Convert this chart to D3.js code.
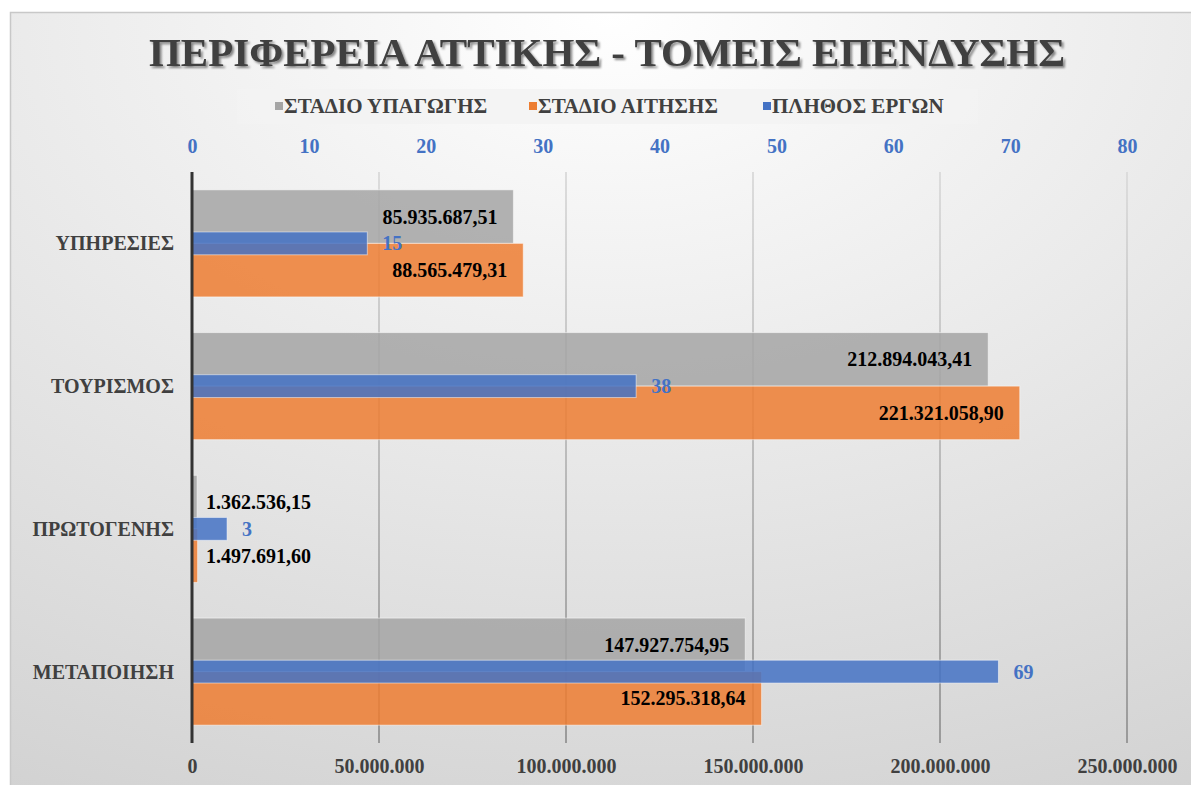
<!DOCTYPE html>
<html>
<head>
<meta charset="utf-8">
<script src="https://cdn.jsdelivr.net/npm/d3@7"></script>
<style>
  body { margin: 0; background: #fff; }
  svg text { font-family: "Liberation Serif", "Times New Roman", serif !important; font-weight: bold; }
</style>
</head>
<body>
<div class="chart"></div>
<script>
// data
var categories = ["ΥΠΗΡΕΣΙΕΣ", "ΤΟΥΡΙΣΜΟΣ", "ΠΡΩΤΟΓΕΝΗΣ", "ΜΕΤΑΠΟΙΗΣΗ"];
var stadioYpagogis = [85935687.51, 212894043.41, 1362536.15, 147927754.95];
var stadioAitisis = [88565479.31, 221321058.90, 1497691.60, 152295318.64];
var plithosErgon = [15, 38, 3, 69];
var seriesNames = ["ΣΤΑΔΙΟ ΥΠΑΓΩΓΗΣ", "ΣΤΑΔΙΟ ΑΙΤΗΣΗΣ", "ΠΛΗΘΟΣ ΕΡΓΩΝ"];
var moneyTicks = [0, 50000000, 100000000, 150000000, 200000000, 250000000];
var countTicks = [0, 10, 20, 30, 40, 50, 60, 70, 80];

function drawChart() {
    var W = 1191, H = 785;
    var plot = { left: 192, right: 1127, top: 172, bottom: 743 };
    var colors = ["#a5a5a5", "#ed7d31", "#4472c4"];

    var gr = d3.formatLocale({ decimal: ",", thousands: ".", grouping: [3], currency: ["", "€"] });
    var fmtMoney = gr.format(",.2f"),
        fmtTick = gr.format(",.0f");

    var svg = d3.select(".chart").append("svg")
        .attr("width", W)
        .attr("height", H);

    var defs = svg.append("defs");
    var bg = defs.append("radialGradient")
        .attr("id", "bg")
        .attr("cx", "50%").attr("cy", "0%").attr("r", "110%")
        .attr("fx", "50%").attr("fy", "0%");
    bg.append("stop").attr("offset", "0%").attr("stop-color", "#ffffff");
    bg.append("stop").attr("offset", "100%").attr("stop-color", "#d2d2d2");

    var gridGrad = defs.append("linearGradient")
        .attr("id", "gridgrad")
        .attr("gradientUnits", "userSpaceOnUse")
        .attr("x1", 0).attr("y1", plot.top).attr("x2", 0).attr("y2", plot.bottom);
    gridGrad.append("stop").attr("offset", "0%").attr("stop-color", "#dcdcdc");
    gridGrad.append("stop").attr("offset", "100%").attr("stop-color", "#9a9a9a");

    var shadow = defs.append("filter").attr("id", "shadow")
        .attr("x", "-5%").attr("y", "-20%").attr("width", "110%").attr("height", "150%");
    shadow.append("feDropShadow")
        .attr("dx", 2).attr("dy", 2).attr("stdDeviation", 1)
        .attr("flood-color", "#000").attr("flood-opacity", 0.45);

    // chart area
    svg.append("rect")
        .attr("x", 10.5).attr("y", 12.5)
        .attr("width", W + 10).attr("height", H + 10)
        .attr("fill", "url(#bg)")
        .attr("stroke", "#c8c8c8")
        .attr("stroke-width", 1.5);

    // title
    svg.append("text")
        .attr("x", 607).attr("y", 52)
        .attr("text-anchor", "middle")
        .attr("dominant-baseline", "central")
        .attr("fill", "#404040")
        .attr("font-size", 41)
        .attr("filter", "url(#shadow)")
        .text("ΠΕΡΙΦΕΡΕΙΑ ΑΤΤΙΚΗΣ - ΤΟΜΕΙΣ ΕΠΕΝΔΥΣΗΣ");

    // legend
    svg.append("rect")
        .attr("x", 237).attr("y", 89)
        .attr("width", 741).attr("height", 35)
        .attr("fill", "#f2f2f2")
        .attr("opacity", 0.8);

    var legendX = [275, 529, 763];
    var legend = svg.selectAll(".legend")
        .data(seriesNames)
        .enter().append("g")
        .attr("class", "legend")
        .attr("transform", function (d, i) { return "translate(" + legendX[i] + ",106)"; });
    legend.append("rect")
        .attr("x", 0).attr("y", -4)
        .attr("width", 8).attr("height", 8)
        .attr("fill", function (d, i) { return colors[i]; });
    legend.append("text")
        .attr("x", 9)
        .attr("dominant-baseline", "central")
        .attr("fill", "#404040")
        .attr("font-size", 21)
        .text(function (d) { return d; });

    // scales
    var x = d3.scaleLinear().domain([0, 250000000]).range([plot.left, plot.right]);
    var x2 = d3.scaleLinear().domain([0, 80]).range([plot.left, plot.right]);
    var y = d3.scaleBand().domain(categories).range([plot.top, plot.bottom]);
    var bw = y.bandwidth();
    var sub = d3.scaleBand().domain([0, 1]).range([bw * 0.125, bw * 0.875]);
    var blueH = bw * 0.16;

    // grid lines
    svg.append("g")
        .selectAll("line")
        .data(moneyTicks.slice(1))
        .enter().append("line")
        .attr("x1", function (d) { return x(d); })
        .attr("x2", function (d) { return x(d); })
        .attr("y1", plot.top).attr("y2", plot.bottom)
        .attr("stroke", "url(#gridgrad)")
        .attr("stroke-width", 2);

    // bottom axis labels
    var xAxis = d3.axisBottom(x).tickValues(moneyTicks).tickFormat(fmtTick).tickSize(0).tickPadding(0);
    var gx = svg.append("g")
        .attr("transform", "translate(0," + 766 + ")")
        .call(xAxis);
    gx.select(".domain").remove();
    gx.selectAll("text")
        .attr("dy", null).attr("y", 0)
        .attr("dominant-baseline", "central")
        .attr("fill", "#404040")
        .attr("font-size", 20);

    // top axis labels
    var x2Axis = d3.axisTop(x2).tickValues(countTicks).tickSize(0).tickPadding(0);
    var gx2 = svg.append("g")
        .attr("transform", "translate(0," + 146 + ")")
        .call(x2Axis);
    gx2.select(".domain").remove();
    gx2.selectAll("text")
        .attr("dy", null).attr("y", 0)
        .attr("dominant-baseline", "central")
        .attr("fill", "#4472c4")
        .attr("font-size", 20);

    // category labels
    var yAxis = d3.axisLeft(y).tickSize(0).tickPadding(18);
    var gy = svg.append("g")
        .attr("transform", "translate(" + plot.left + ",0)")
        .call(yAxis);
    gy.select(".domain").remove();
    gy.selectAll("text")
        .attr("dy", null)
        .attr("dominant-baseline", "central")
        .attr("fill", "#404040")
        .attr("font-size", 20);

    // primary bars
    var primary = [stadioYpagogis, stadioAitisis];
    primary.forEach(function (vals, s) {
        var g = svg.append("g");
        g.selectAll("rect")
            .data(vals)
            .enter().append("rect")
            .attr("x", x(0))
            .attr("y", function (d, i) { return y(categories[i]) + sub(s); })
            .attr("width", function (d) { return x(d) - x(0); })
            .attr("height", sub.bandwidth())
            .attr("fill", colors[s])
            .attr("fill-opacity", 0.85)
            .attr("stroke", "#ffffff")
            .attr("stroke-opacity", 0.5)
            .attr("stroke-width", 1);
    });

    // secondary bars (count of projects)
    svg.append("g")
        .selectAll("rect")
        .data(plithosErgon)
        .enter().append("rect")
        .attr("x", x2(0))
        .attr("y", function (d, i) { return y(categories[i]) + bw / 2 - blueH / 2; })
        .attr("width", function (d) { return x2(d) - x2(0); })
        .attr("height", blueH)
        .attr("fill", colors[2])
        .attr("fill-opacity", 0.85)
        .attr("stroke", "#ffffff")
        .attr("stroke-opacity", 0.5)
        .attr("stroke-width", 1);

    // value axis line
    svg.append("line")
        .attr("x1", plot.left).attr("x2", plot.left)
        .attr("y1", plot.top).attr("y2", plot.bottom)
        .attr("stroke", "#333333")
        .attr("stroke-width", 3);

    // value labels, inside end (or just past the axis when the bar is too short)
    primary.forEach(function (vals, s) {
        svg.append("g")
            .selectAll("text")
            .data(vals)
            .enter().append("text")
            .attr("y", function (d, i) { return y(categories[i]) + sub(s) + sub.bandwidth() / 2; })
            .attr("dominant-baseline", "central")
            .attr("font-size", 20)
            .attr("fill", "#000")
            .text(function (d) { return fmtMoney(d); })
            .each(function (d) {
                var tw = this.getComputedTextLength();
                var end = x(d) - 16;
                if (end - tw < x(0) + 10) {
                    d3.select(this).attr("x", x(0) + 14).attr("text-anchor", "start");
                } else {
                    d3.select(this).attr("x", end).attr("text-anchor", "end");
                }
            });
    });

    svg.append("g")
        .selectAll("text")
        .data(plithosErgon)
        .enter().append("text")
        .attr("x", function (d) { return x2(d) + 15; })
        .attr("y", function (d, i) { return y(categories[i]) + bw / 2; })
        .attr("dominant-baseline", "central")
        .attr("font-size", 20)
        .attr("fill", "#4472c4")
        .text(function (d) { return d; });
}

document.addEventListener("DOMContentLoaded", drawChart);
</script>
</body>
</html>
